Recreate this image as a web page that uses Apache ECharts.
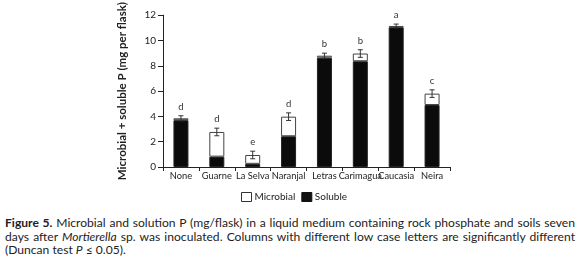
<!DOCTYPE html>
<html>
<head>
<meta charset="utf-8">
<script src="https://cdn.jsdelivr.net/npm/echarts@6/dist/echarts.min.js"></script>
<style>
html,body{margin:0;padding:0;background:#fff;}
#chart{position:absolute;left:0;top:0;width:580px;height:205px;}
#cap{position:absolute;left:5px;top:216px;width:570px;font-family:Lato,"Noto Sans",sans-serif;font-size:12.1px;line-height:13.5px;text-align:justify;color:#222;}
</style>
</head>
<body>
<div id="chart"></div>
<div id="cap"><b>Figure 5.</b> Microbial and solution P (mg/flask) in a liquid medium containing rock phosphate and soils seven days after <i>Mortierella</i> sp. was inoculated. Columns with different low case letters are significantly different (Duncan test <i>P</i> ≤ 0.05).</div>
<script>
var categories = ["None","Guarne","La Selva","Naranjal","Letras","Carimagua","Caucasia","Neira"];
var soluble   = [3.70, 0.82, 0.25, 2.43, 8.64, 8.36, 11.05, 4.90];
var microbial = [0.15, 1.95, 0.70, 1.55, 0.16, 0.61, 0.10, 0.90];
var errors    = [0.20, 0.30, 0.30, 0.30, 0.20, 0.30, 0.15, 0.30];
var letters   = ["d","d","e","d","b","b","a","c"];
var yTicks    = [0, 2, 4, 6, 8, 10, 12];

var errData = categories.map(function(c, i){
  return [i, soluble[i] + microbial[i], errors[i], letters[i]];
});

var chart = echarts.init(document.getElementById('chart'));
var font = 'Lato,"Noto Sans",sans-serif';
chart.setOption({
  animation: false,
  textStyle: {fontFamily: font},
  grid: {left: 163, right: 130, top: 11, bottom: 38},
  legend: {
    data: [
      {name: 'Microbial', icon: 'rect', itemStyle: {color: '#fff', borderColor: '#333', borderWidth: 1}},
      {name: 'Soluble', icon: 'rect', itemStyle: {color: '#111', borderColor: '#111', borderWidth: 1}}
    ],
    left: 236, top: 187, itemWidth: 10, itemHeight: 9, itemGap: 6,
    textStyle: {fontSize: 10, color: '#222', fontFamily: font, padding: [0,0,0,-2]}
  },
  xAxis: {
    type: 'category', data: categories,
    axisLine: {lineStyle: {color: '#222', width: 1}},
    axisTick: {show: true, length: 4, lineStyle: {color: '#222'}},
    axisLabel: {fontSize: 9.3, color: '#222', margin: 4, interval: 0}
  },
  yAxis: {
    type: 'value', min: yTicks[0], max: yTicks[yTicks.length-1], interval: 2,
    name: 'Microbial + soluble P (mg per flask)', nameLocation: 'middle', nameGap: 35,
    nameTextStyle: {fontSize: 11.5, fontWeight: 'bold', color: '#222', fontFamily: font},
    axisLine: {show: true, lineStyle: {color: '#222', width: 1}},
    axisTick: {show: true, length: 5, lineStyle: {color: '#222'}},
    splitLine: {show: false},
    axisLabel: {fontSize: 10, color: '#222', margin: 7}
  },
  series: [
    {name: 'Soluble', type: 'bar', stack: 'p', data: soluble, barWidth: 15,
     itemStyle: {color: '#0b0b0b', borderColor: '#222', borderWidth: 1}},
    {name: 'Microbial', type: 'bar', stack: 'p', data: microbial, barWidth: 15,
     itemStyle: {color: '#fff', borderColor: '#444', borderWidth: 1}},
    {name: 'err', type: 'custom', data: errData, z: 10,
     renderItem: function(params, api){
       var x = api.value(0), t = api.value(1), e = api.value(2);
       var top = api.coord([x, t + e]);
       var bot = api.coord([x, t - e]);
       var hw = 2.5;
       var st = {stroke: '#333', lineWidth: 1};
       return {type: 'group', children: [
         {type: 'line', shape: {x1: top[0], y1: top[1], x2: bot[0], y2: bot[1]}, style: st},
         {type: 'line', shape: {x1: top[0]-hw, y1: top[1], x2: top[0]+hw, y2: top[1]}, style: st},
         {type: 'line', shape: {x1: bot[0]-hw, y1: bot[1], x2: bot[0]+hw, y2: bot[1]}, style: st},
         {type: 'text', style: {text: letters[params.dataIndex], x: top[0], y: top[1]-4,
           textAlign: 'center', textVerticalAlign: 'bottom', fontSize: 9.5, fill: '#333', fontFamily: font}}
       ]};
     }
    }
  ]
});
</script>
</body>
</html>
